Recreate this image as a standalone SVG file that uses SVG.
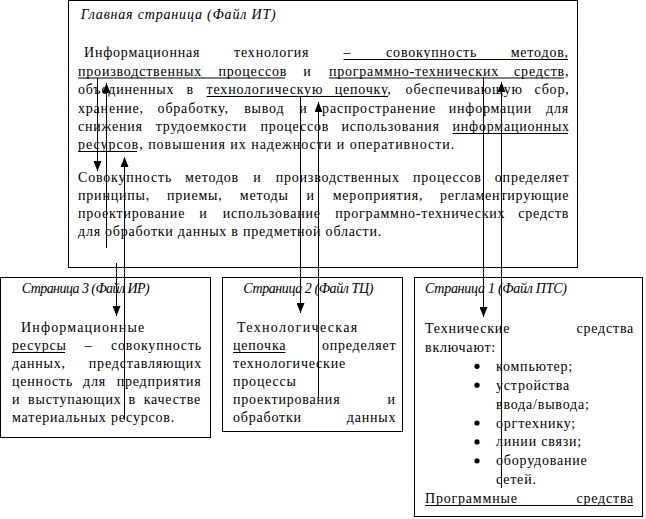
<svg xmlns="http://www.w3.org/2000/svg" width="646" height="519" viewBox="0 0 646 519">
<style>
.bg{fill:#fff}
.box{fill:#fff;stroke:#000;stroke-width:1}
.t{font-family:"Liberation Serif","Times New Roman",serif;font-size:14px;letter-spacing:0.8px;fill:#000}
.ti{font-family:"Liberation Serif","Times New Roman",serif;font-size:14px;font-style:italic;fill:#000}
.u{stroke:#000;stroke-width:1}
.c{stroke:#000;stroke-width:1;fill:none;marker-end:url(#ah)}
.dot{fill:#000}
</style>
<defs>
<marker id="ah" viewBox="0 0 10 8" refX="10" refY="4" markerWidth="10" markerHeight="8" markerUnits="userSpaceOnUse" orient="auto">
<path d="M0,0 L10,4 L0,8 z" fill="#000"/>
</marker>
</defs>
<rect class="bg" x="0" y="0" width="646" height="519"/>

<g id="main">
<rect class="box" x="68.5" y="0.5" width="509" height="267"/>
<text class="ti" x="80.7" y="19" textLength="195">Главная страница (Файл ИТ)</text>
<text class="t" y="57"><tspan x="84">Информационная</tspan><tspan x="234.1">технология</tspan><tspan x="343.5">–</tspan><tspan x="386.1">совокупность</tspan><tspan x="510.7">методов,</tspan></text>
<line class="u" x1="343.5" y1="59.5" x2="568" y2="59.5"/>
<text class="t" y="75.5"><tspan x="78">производственных</tspan><tspan x="218.4">процессов</tspan><tspan x="303.3">и</tspan><tspan x="328.9">программно-технических</tspan><tspan x="514.1">средств,</tspan></text>
<line class="u" x1="78" y1="78" x2="285.2" y2="78"/>
<line class="u" x1="328.9" y1="78" x2="564" y2="78"/>
<text class="t" y="94"><tspan x="78">объединенных</tspan><tspan x="186.5">в</tspan><tspan x="206.6">технологическую</tspan><tspan x="334.7">цепочку,</tspan><tspan x="405.6">обеспечивающую</tspan><tspan x="534.5">сбор,</tspan></text>
<line class="u" x1="206.6" y1="96.5" x2="388" y2="96.5"/>
<text class="t" y="112.5"><tspan x="78">хранение,</tspan><tspan x="157.6">обработку,</tspan><tspan x="244.2">вывод</tspan><tspan x="299.2">и</tspan><tspan x="322.1">распространение</tspan><tspan x="448.7">информации</tspan><tspan x="546">для</tspan></text>
<text class="t" y="131"><tspan x="78">снижения</tspan><tspan x="155.7">трудоемкости</tspan><tspan x="260.4">процессов</tspan><tspan x="341.5">использования</tspan><tspan x="452.5">информационных</tspan></text>
<line class="u" x1="452.5" y1="133.5" x2="568" y2="133.5"/>
<text class="t" x="78" y="149" textLength="377" lengthAdjust="spacing">ресурсов, повышения их надежности и оперативности.</text>
<line class="u" x1="78" y1="151.5" x2="137" y2="151.5"/>
<text class="t" y="182"><tspan x="78">Совокупность</tspan><tspan x="185.1">методов</tspan><tspan x="253.2">и</tspan><tspan x="275.7">производственных</tspan><tspan x="413">процессов</tspan><tspan x="494.8">определяет</tspan></text>
<text class="t" y="200"><tspan x="78">принципы,</tspan><tspan x="167">приемы,</tspan><tspan x="239.8">методы</tspan><tspan x="306.6">и</tspan><tspan x="332.7">мероприятия,</tspan><tspan x="440">регламентирующие</tspan></text>
<text class="t" y="218"><tspan x="78">проектирование</tspan><tspan x="199.2">и</tspan><tspan x="222.7">использование</tspan><tspan x="335.2">программно-технических</tspan><tspan x="518.3">средств</tspan></text>
<text class="t" x="78" y="236" textLength="304" lengthAdjust="spacing">для обработки данных в предметной области.</text>
</g>

<g id="page3">
<rect class="box" x="0.5" y="277.5" width="210" height="160"/>
<text class="ti" x="21.7" y="293" textLength="128">Страница 3 (Файл ИР)</text>
<text class="t" x="21" y="332" textLength="124" lengthAdjust="spacing">Информационные</text>
<text class="t" y="350"><tspan x="12">ресурсы</tspan><tspan x="84.7">–</tspan><tspan x="111">совокупность</tspan></text>
<line class="u" x1="12" y1="352.5" x2="65" y2="352.5"/>
<text class="t" y="368"><tspan x="12">данных,</tspan><tspan x="88.8">представляющих</tspan></text>
<text class="t" y="386"><tspan x="12">ценность</tspan><tspan x="83">для</tspan><tspan x="116.7">предприятия</tspan></text>
<text class="t" y="404"><tspan x="12">и</tspan><tspan x="28.1">выступающих</tspan><tspan x="128.5">в</tspan><tspan x="143.7">качестве</tspan></text>
<text class="t" x="12" y="422">материальных ресурсов.</text>
</g>

<g id="page2">
<rect class="box" x="222.5" y="277.5" width="180" height="154"/>
<text class="ti" x="243.3" y="293" textLength="130">Страница 2 (Файл ТЦ)</text>
<text class="t" x="237" y="332" textLength="121" lengthAdjust="spacing">Технологическая</text>
<text class="t" y="350"><tspan x="233">цепочка</tspan><tspan x="321.9">определяет</tspan></text>
<line class="u" x1="233" y1="352.5" x2="285.5" y2="352.5"/>
<text class="t" x="233" y="368">технологические</text>
<text class="t" x="233" y="386">процессы</text>
<text class="t" y="404"><tspan x="233">проектирования</tspan><tspan x="387.5">и</tspan></text>
<text class="t" y="422"><tspan x="233">обработки</tspan><tspan x="346.8">данных</tspan></text>
</g>

<g id="page1">
<rect class="box" x="414.5" y="277.5" width="228" height="239"/>
<text class="ti" x="425" y="293" textLength="142">Страница 1 (Файл ПТС)</text>
<text class="t" y="333"><tspan x="425">Технические</tspan><tspan x="576.4">средства</tspan></text>
<text class="t" x="425" y="352">включают:</text>
<circle class="dot" cx="477" cy="366.3" r="2.6"/>
<text class="t" x="496" y="370.8">компьютер;</text>
<circle class="dot" cx="477" cy="385.2" r="2.6"/>
<text class="t" x="496" y="389.7">устройства</text>
<text class="t" x="496" y="408.6">ввода/вывода;</text>
<circle class="dot" cx="477" cy="423" r="2.6"/>
<text class="t" x="496" y="427.5">оргтехнику;</text>
<circle class="dot" cx="477" cy="441.9" r="2.6"/>
<text class="t" x="496" y="446.4">линии связи;</text>
<circle class="dot" cx="477" cy="460.8" r="2.6"/>
<text class="t" x="496" y="465.3">оборудование</text>
<text class="t" x="496" y="484.2">сетей.</text>
<text class="t" y="503"><tspan x="425">Программные</tspan><tspan x="576.4">средства</tspan></text>
<line class="u" x1="425" y1="505.5" x2="633" y2="505.5"/>
</g>

<g id="connectors">
<path class="c" d="M97.5,78 V171"/>
<path class="c" d="M106.5,248 V83"/>
<path class="c" d="M116.5,263 V316"/>
<path class="c" d="M124.5,420 V157"/>
<path class="c" d="M300.5,97 V313"/>
<path class="c" d="M318.5,398 V102"/>
<path class="c" d="M483.5,77 V317"/>
<path class="c" d="M501.5,488 V82"/>
</g>
</svg>
